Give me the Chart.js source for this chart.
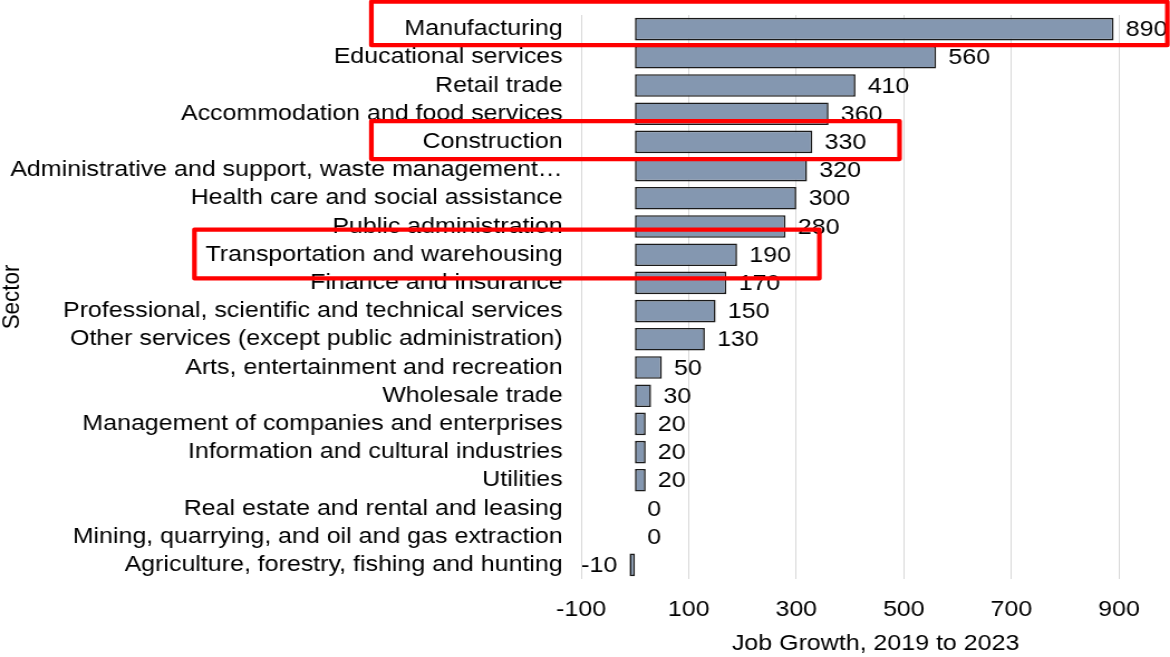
<!DOCTYPE html>
<html lang="en">
  <head>
    <meta charset="utf-8" />
    <title>Job Growth by Sector</title>
    <style>
      body {
        margin: 0;
        background: #fff;
        overflow: hidden;
      }
      /* the source picture is stretched sideways, so is this one */
      #chart {
        transform: scaleX(1.1154);
        transform-origin: 0 0;
      }
    </style>
  </head>
  <body>
    <canvas id="chart" width="1049" height="657"></canvas>
    <script src="https://cdn.jsdelivr.net/npm/chart.js"></script>
    <script>
      const sectors = [
        "Manufacturing",
        "Educational services",
        "Retail trade",
        "Accommodation and food services",
        "Construction",
        "Administrative and support, waste management…",
        "Health care and social assistance",
        "Public administration",
        "Transportation and warehousing",
        "Finance and insurance",
        "Professional, scientific and technical services",
        "Other services (except public administration)",
        "Arts, entertainment and recreation",
        "Wholesale trade",
        "Management of companies and enterprises",
        "Information and cultural industries",
        "Utilities",
        "Real estate and rental and leasing",
        "Mining, quarrying, and oil and gas extraction",
        "Agriculture, forestry, fishing and hunting",
      ];

      const jobGrowth = [
        890, 560, 410, 360, 330, 320, 300, 280, 190, 170, 150, 130, 50, 30, 20,
        20, 20, 0, 0, -10,
      ];

      const xTicks = [-100, 100, 300, 500, 700, 900];

      // red boxes drawn over the chart: x in axis units, y in rows
      const highlights = [
        { sector: "Manufacturing", from: -490, to: 990, above: 0.97, below: 0.57 },
        { sector: "Construction", from: -490, to: 492, above: 0.74, below: 0.61 },
        { sector: "Transportation and warehousing", from: -819, to: 343, above: 0.89, below: 0.84 },
      ];

      const FONT = "'Liberation Sans', Arial, sans-serif";
      const SIZE = 22.4;

      const valueLabels = {
        id: "valueLabels",
        afterDatasetsDraw(chart) {
          const ctx = chart.ctx;
          const meta = chart.getDatasetMeta(0);
          ctx.save();
          ctx.font = `${SIZE}px ${FONT}`;
          ctx.fillStyle = "#000";
          ctx.textBaseline = "middle";
          meta.data.forEach((bar, i) => {
            const v = jobGrowth[i];
            if (v < 0) {
              ctx.textAlign = "right";
              ctx.fillText(String(v), bar.x - 11, bar.y + 1);
            } else {
              ctx.textAlign = "left";
              ctx.fillText(String(v), bar.x + 11, bar.y + 1);
            }
          });
          ctx.restore();
        },
      };

      const redBoxes = {
        id: "redBoxes",
        afterDraw(chart) {
          const { ctx, scales } = chart;
          const x = scales.x;
          const y = scales.y;
          const row = y.getPixelForValue(1) - y.getPixelForValue(0);
          ctx.save();
          ctx.strokeStyle = "#ff0000";
          ctx.lineWidth = 4.2;
          ctx.lineJoin = "round";
          highlights.forEach((h) => {
            const idx = sectors.indexOf(h.sector);
            const cy = y.getPixelForValue(idx);
            const left = x.getPixelForValue(h.from);
            const right = x.getPixelForValue(h.to);
            const top = cy - h.above * row;
            const bottom = cy + h.below * row;
            ctx.strokeRect(left, top, right - left, bottom - top);
          });
          ctx.restore();
        },
      };

      new Chart(document.getElementById("chart"), {
        type: "bar",
        data: {
          labels: sectors,
          datasets: [
            {
              label: "Job Growth, 2019 to 2023",
              data: jobGrowth,
              backgroundColor: "#8497b0",
              borderColor: "#1a1a1a",
              borderWidth: 1.6,
              borderSkipped: false,
              categoryPercentage: 1,
              barPercentage: 0.8,
            },
          ],
        },
        options: {
          indexAxis: "y",
          responsive: false,
          animation: false,
          devicePixelRatio: 1,
          layout: { padding: { top: 15, right: 0, left: 0, bottom: 0 } },
          plugins: {
            legend: { display: false },
            tooltip: { enabled: false },
          },
          scales: {
            x: {
              min: -100,
              max: 995,
              afterBuildTicks: (scale) => {
                scale.ticks = xTicks.map((v) => ({ value: v }));
              },
              afterFit: (scale) => {
                scale.height = 78;
              },
              grid: {
                color: "#d9d9d9",
                lineWidth: 1,
                drawTicks: false,
              },
              border: { display: false },
              ticks: {
                padding: 17,
                color: "#000",
                font: { family: FONT, size: SIZE },
              },
              title: {
                display: true,
                text: "Job Growth, 2019 to 2023",
                color: "#000",
                font: { family: FONT, size: SIZE },
                padding: { top: 0, bottom: 0 },
              },
            },
            y: {
              afterFit: (scale) => {
                scale.width = 521;
                scale.paddingTop = 0;
                scale.paddingBottom = 0;
              },
              grid: { display: false, drawTicks: false },
              border: { display: false },
              ticks: {
                autoSkip: false,
                padding: 16.5,
                color: "#000",
                font: { family: FONT, size: SIZE },
              },
              title: {
                display: true,
                text: "Sector",
                color: "#000",
                font: { family: FONT, size: SIZE, lineHeight: 1 },
                padding: 0,
              },
            },
          },
        },
        plugins: [valueLabels, redBoxes],
      });
    </script>
  </body>
</html>
